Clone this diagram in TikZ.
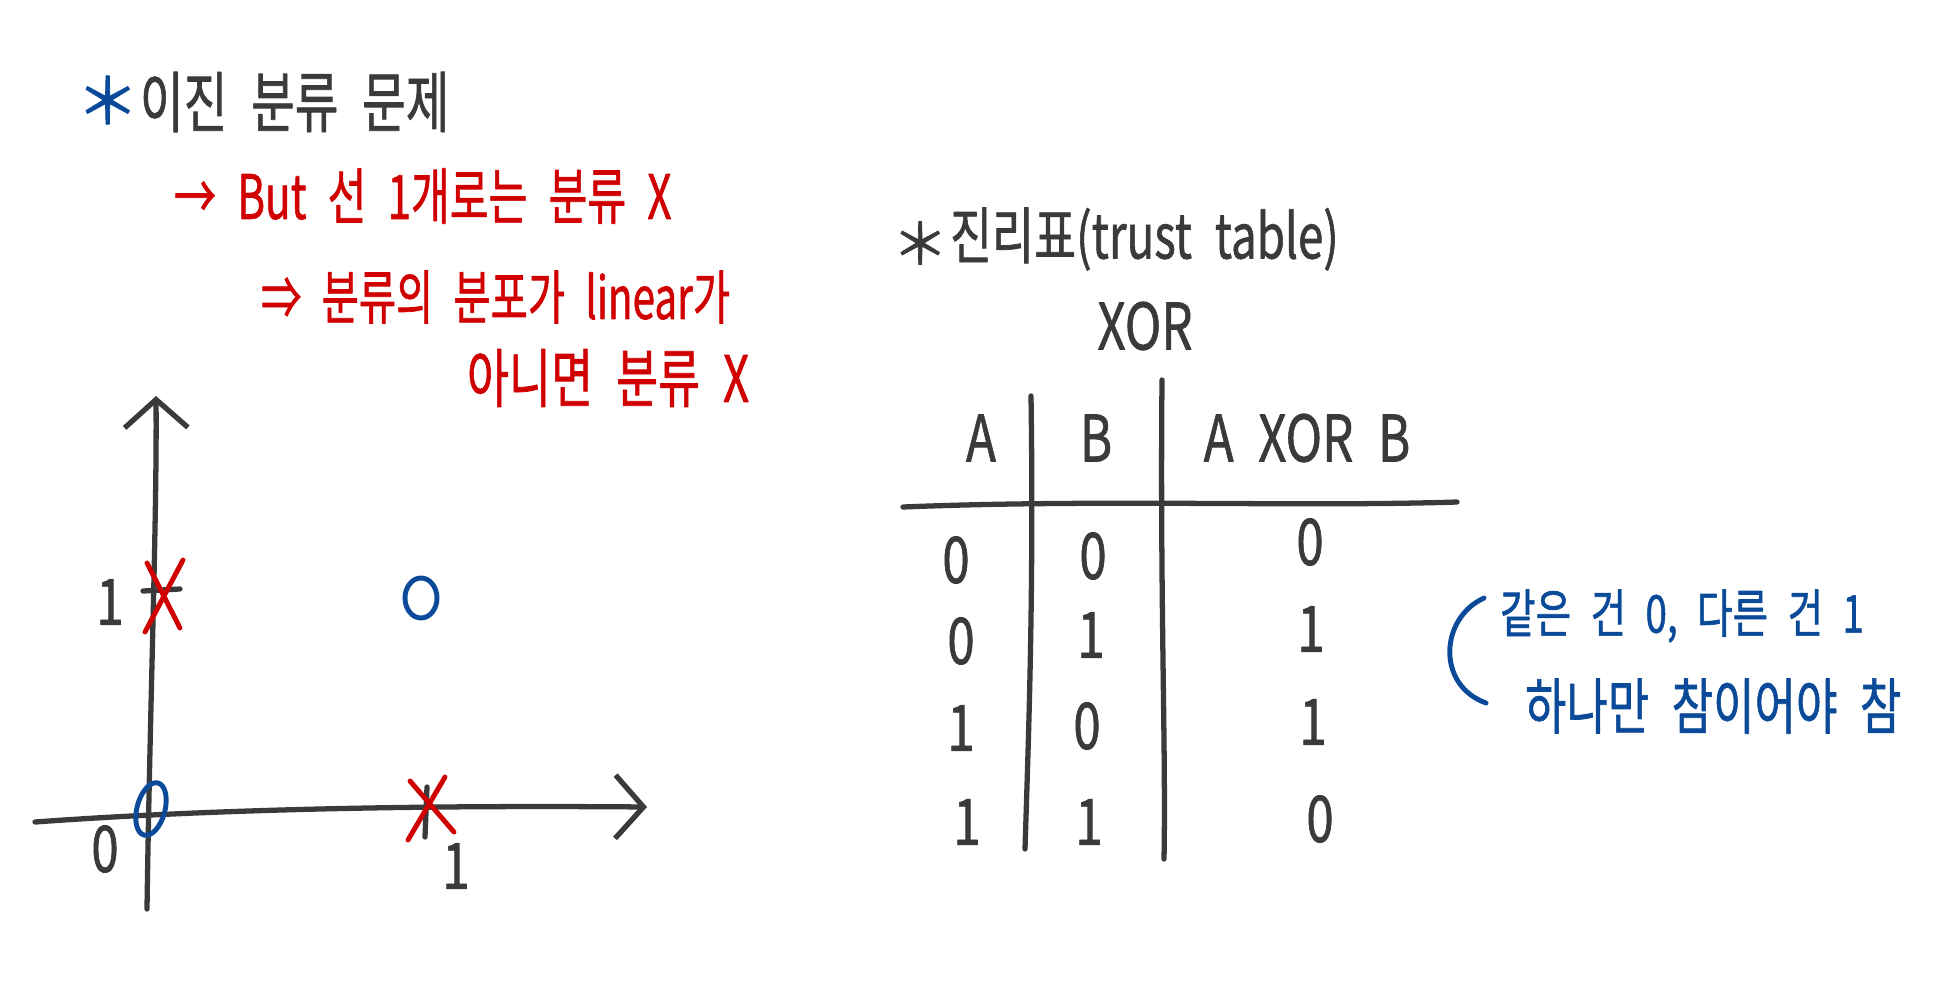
\documentclass[tikz,border=0pt]{standalone}
\usepackage{fontspec}
\setmainfont{Noto Sans CJK KR}[FakeBold=1.2]
\usetikzlibrary{arrows.meta}
\definecolor{ink}{HTML}{3A3A3A}
\definecolor{pred}{HTML}{D00000}
\definecolor{pblue}{HTML}{0A4A98}
\newcommand{\tallbox}[2][1.3]{\scalebox{1}[#1]{#2}}
\newcommand{\setfs}[1]{\fontsize{#1}{#1}\selectfont\spaceskip 0.5em\relax}
\begin{document}
\begin{tikzpicture}[x=0.01cm,y=-0.01cm,line cap=round,line join=round,
  pen/.style={draw=ink,line width=1.5pt},
  redpen/.style={draw=pred,line width=1.4pt},
  bluepen/.style={draw=pblue,line width=1.4pt},
  lbl/.style={inner sep=0pt,outer sep=0pt},
  fs/.style={font={\setfs{#1}}},
  axis tip/.style={-{Straight Barb[length=8pt,width=18pt]}}]
\useasboundingbox (0,0) rectangle (1952,1000);

% ---------- left: title and red notes ----------
\node[lbl,fs=18pt,text=pblue,anchor=west] (star1) at (76,100) {＊};
\node[lbl,fs=13.5pt,text=ink,anchor=west] (title1) at (140,102) {\tallbox[1.4]{이진 분류 문제}};
\node[lbl,fs=12pt,text=pred,anchor=west] (red1) at (174,196) {\tallbox[1.45]{→ But 선 1개로는 분류 X}};
\node[lbl,fs=11.5pt,text=pred,anchor=west] (red2) at (261,297) {\tallbox[1.45]{⇒ 분류의 분포가 linear가}};
\node[lbl,fs=13pt,text=pred,anchor=west] (red3) at (467,378) {\tallbox[1.4]{아니면 분류 X}};

% ---------- left: plot ----------
\coordinate (yb) at (147,909);
\coordinate (yt) at (156,396);
\coordinate (xl) at (35,822);
\coordinate (xr) at (647,807);
\draw[pen,axis tip] (yb) .. controls (150,700) and (157,520) .. (yt);
\draw[pen,axis tip] (xl) .. controls (200,810) and (400,805) .. (xr);
\coordinate (ty1) at (143,591);
\coordinate (ty2) at (180,589);
\coordinate (tx1) at (427,787);
\coordinate (tx2) at (425,837);
\draw[pen] (ty1) -- (ty2);
\draw[pen] (tx1) -- (tx2);
\node[lbl,fs=14pt,text=ink] (ly1) at (110,602) {\tallbox{1}};
\node[lbl,fs=14pt,text=ink] (lo) at (105,849) {\tallbox{0}};
\node[lbl,fs=14pt,text=ink] (lx1) at (456,866) {\tallbox{1}};
% markers
\coordinate (m01) at (163,595);
\coordinate (m10) at (429,807);
\coordinate (m11) at (421,598);
\coordinate (m00) at (151,809);
\draw[redpen] (147,563) -- (180,628) (183,560) -- (145,632);
\draw[redpen] (410,781) -- (454,832) (445,777) -- (408,840);
\draw[bluepen] (m11) ellipse [x radius=16, y radius=20];
\draw[bluepen, rotate around={-15:(m00)}] (m00) ellipse [x radius=14, y radius=27];

% ---------- right: truth table ----------
\node[lbl,fs=16pt,text=ink,anchor=west] (star2) at (892,243) {＊};
\node[lbl,fs=13pt,text=ink,anchor=west] (title2) at (950,239) {\tallbox[1.35]{진리표(trust table)}};
\node[lbl,fs=14pt,text=ink] (xor) at (1145,326) {\tallbox{XOR}};

\node[lbl,fs=14pt,text=ink] (hA) at (981,438) {\tallbox{A}};
\node[lbl,fs=14pt,text=ink] (hB) at (1096,438) {\tallbox{B}};
\node[lbl,fs=14pt,text=ink] (hX) at (1307,438) {\tallbox{A XOR B}};

\coordinate (v1t) at (1031,396);
\coordinate (v1b) at (1025,849);
\coordinate (v2t) at (1162,380);
\coordinate (v2b) at (1164,859);
\coordinate (hl) at (903,507);
\coordinate (hr) at (1457,502);
\draw[pen] (v1t) .. controls (1034,600) and (1028,750) .. (v1b);
\draw[pen] (v2t) .. controls (1160,600) and (1166,750) .. (v2b);
\draw[pen] (hl) .. controls (1100,499) and (1300,507) .. (hr);

\node[lbl,fs=14pt,text=ink] (a1) at (956,560) {\tallbox{0}};
\node[lbl,fs=14pt,text=ink] (b1) at (1093,556) {\tallbox{0}};
\node[lbl,fs=14pt,text=ink] (x1) at (1310,542) {\tallbox{0}};
\node[lbl,fs=14pt,text=ink] (a2) at (961,641) {\tallbox{0}};
\node[lbl,fs=14pt,text=ink] (b2) at (1091,635) {\tallbox{1}};
\node[lbl,fs=14pt,text=ink] (x2) at (1311,629) {\tallbox{1}};
\node[lbl,fs=14pt,text=ink] (a3) at (961,728) {\tallbox{1}};
\node[lbl,fs=14pt,text=ink] (b3) at (1087,726) {\tallbox{0}};
\node[lbl,fs=14pt,text=ink] (x3) at (1313,722) {\tallbox{1}};
\node[lbl,fs=14pt,text=ink] (a4) at (967,822) {\tallbox{1}};
\node[lbl,fs=14pt,text=ink] (b4) at (1089,822) {\tallbox{1}};
\node[lbl,fs=14pt,text=ink] (x4) at (1320,819) {\tallbox{0}};

% ---------- right: blue note ----------
\coordinate (bt) at (1484,598);
\coordinate (bb) at (1486,703);
\draw[bluepen] (bt) .. controls (1440,618) and (1436,685) .. (bb);
\node[lbl,fs=11pt,text=pblue,anchor=west] (note1) at (1500,616) {\tallbox[1.35]{같은 건 0, 다른 건 1}};
\node[lbl,fs=12.8pt,text=pblue,anchor=west] (note2) at (1525,706) {\tallbox[1.35]{하나만 참이어야 참}};
\end{tikzpicture}
\end{document}
